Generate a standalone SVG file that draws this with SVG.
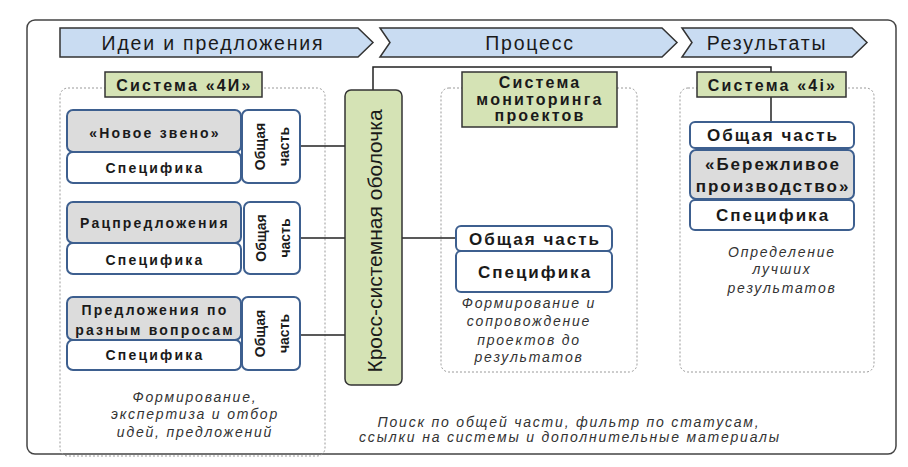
<svg xmlns="http://www.w3.org/2000/svg" width="908" height="467" viewBox="0 0 908 467">
<style>
text{font-family:"Liberation Sans",Arial,sans-serif;fill:#1a1a1a}
.hdr{fill:#c9dcf2;stroke:#333;stroke-width:1.5}
.ht{font-size:19.5px;letter-spacing:1.8px;text-anchor:middle}
.grn{fill:#d5e3b5;stroke:#333;stroke-width:1.5}
.gt{font-size:16px;font-weight:bold;letter-spacing:2.2px;text-anchor:middle}
.dot{fill:none;stroke:#999;stroke-width:1;stroke-dasharray:2 2}
.gray{fill:#dcdcdc;stroke:#3d5f8f;stroke-width:2}
.wht{fill:#fff;stroke:#3d5f8f;stroke-width:2}
.bt{font-size:14px;font-weight:bold;letter-spacing:2.2px;text-anchor:middle}
.bt2{font-size:17px;font-weight:bold;letter-spacing:2px;text-anchor:middle}
.st{font-size:14px;font-weight:bold;text-anchor:middle}
.cap{font-size:14px;font-style:italic;letter-spacing:1.8px;text-anchor:middle;fill:#333}
.ln{fill:none;stroke:#222;stroke-width:1.5}
</style>
<rect x="0" y="0" width="908" height="467" fill="#fff"/>
<rect x="27" y="20" width="869" height="434" rx="8" fill="#fff" stroke="#444" stroke-width="1.5"/>

<g id="header">
<path class="hdr" d="M60,28 L358,28 L373,42.5 L358,57 L60,57 Z"/>
<text class="ht" x="213" y="50">Идеи и предложения</text>
<path class="hdr" d="M380,28 L662,28 L677,42.5 L662,57 L380,57 L390,42.5 Z"/>
<text class="ht" x="530" y="50">Процесс</text>
<path class="hdr" d="M682,28 L852,28 L867,42.5 L852,57 L682,57 L692,42.5 Z"/>
<text class="ht" x="767" y="50">Результаты</text>
</g>

<g id="containers">
<rect class="dot" x="60" y="88" width="265" height="368" rx="8"/>
<rect class="dot" x="441" y="88" width="196" height="284" rx="8"/>
<rect class="dot" x="680" y="88" width="194" height="284" rx="8"/>
</g>

<g id="connectors">
<line class="ln" x1="300" y1="146" x2="345" y2="146"/>
<line class="ln" x1="300" y1="238" x2="345" y2="238"/>
<line class="ln" x1="300" y1="335" x2="345" y2="335"/>
<line class="ln" x1="402" y1="238" x2="457" y2="238"/>
<polyline class="ln" points="373,90 373,67 771,67 771,72"/>
<line class="ln" x1="771" y1="97" x2="771" y2="122"/>
</g>

<g id="sys4I">
<rect class="grn" x="105" y="72" width="157" height="25"/>
<text class="gt" x="184.5" y="91">Система «4И»</text>
</g>

<g id="node1">
<rect class="gray" x="67" y="110" width="174" height="42" rx="6"/>
<text class="bt" x="155" y="138">«Новое звено»</text>
<rect class="wht" x="67" y="152" width="174" height="31" rx="6"/>
<text class="bt" x="155" y="173">Специфика</text>
<rect class="wht" x="242" y="110" width="58" height="73" rx="6"/>
<text class="st" transform="translate(265,146.5) rotate(-90)">Общая</text>
<text class="st" transform="translate(289,146.5) rotate(-90)">часть</text>
</g>

<g id="node2">
<rect class="gray" x="67" y="202" width="174" height="41" rx="6"/>
<text class="bt" x="155" y="228">Рацпредложения</text>
<rect class="wht" x="67" y="243" width="174" height="31" rx="6"/>
<text class="bt" x="155" y="265">Специфика</text>
<rect class="wht" x="244" y="202" width="56" height="72" rx="6"/>
<text class="st" transform="translate(266,238) rotate(-90)">Общая</text>
<text class="st" transform="translate(290,238) rotate(-90)">часть</text>
</g>

<g id="node3">
<rect class="gray" x="67" y="297" width="174" height="43" rx="6"/>
<text class="bt" x="155" y="315">Предложения по</text>
<text class="bt" x="155" y="335">разным вопросам</text>
<rect class="wht" x="67" y="340" width="174" height="30" rx="6"/>
<text class="bt" x="155" y="360">Специфика</text>
<rect class="wht" x="242" y="297" width="58" height="73" rx="6"/>
<text class="st" transform="translate(265,333.5) rotate(-90)">Общая</text>
<text class="st" transform="translate(289,333.5) rotate(-90)">часть</text>
</g>

<g id="caption-left">
<text class="cap" x="195" y="402">Формирование,</text>
<text class="cap" x="195" y="419">экспертиза и отбор</text>
<text class="cap" x="195" y="437">идей, предложений</text>
</g>

<g id="cross">
<rect class="grn" x="345" y="90" width="57" height="295" rx="6" stroke="#3d5f8f" stroke-width="2"/>
<text transform="translate(382,241) rotate(-90)" style="font-size:21px;text-anchor:middle">Кросс-системная оболочка</text>
</g>

<g id="monitoring">
<rect class="grn" x="462" y="72" width="155" height="55"/>
<text class="gt" x="540" y="88">Система</text>
<text class="gt" x="540" y="105">мониторинга</text>
<text class="gt" x="540" y="121">проектов</text>
<rect class="wht" x="456" y="226" width="156" height="25" rx="5"/>
<text class="bt2" x="535" y="245">Общая часть</text>
<rect class="wht" x="456" y="251" width="156" height="41" rx="5"/>
<text class="bt2" x="535" y="278">Специфика</text>
<text class="cap" x="529" y="308">Формирование и</text>
<text class="cap" x="529" y="326">сопровождение</text>
<text class="cap" x="529" y="345">проектов до</text>
<text class="cap" x="529" y="362">результатов</text>
</g>

<g id="sys4i">
<rect class="grn" x="697" y="72" width="149" height="25"/>
<text class="gt" x="772.5" y="91">Система «4i»</text>
<rect class="wht" x="690" y="122" width="164" height="26" rx="5"/>
<text class="bt2" x="773" y="141">Общая часть</text>
<rect class="gray" x="690" y="150" width="164" height="49" rx="6"/>
<text class="bt2" x="773" y="170">«Бережливое</text>
<text class="bt2" x="773" y="192">производство»</text>
<rect class="wht" x="690" y="200" width="164" height="30" rx="5"/>
<text class="bt2" x="773" y="221">Специфика</text>
<text class="cap" x="782" y="257">Определение</text>
<text class="cap" x="782" y="274">лучших</text>
<text class="cap" x="782" y="293">результатов</text>
</g>

<g id="caption-bottom">
<text class="cap" x="569" y="427">Поиск по общей части, фильтр по статусам,</text>
<text class="cap" x="570" y="442">ссылки на системы и дополнительные материалы</text>
</g>
</svg>
